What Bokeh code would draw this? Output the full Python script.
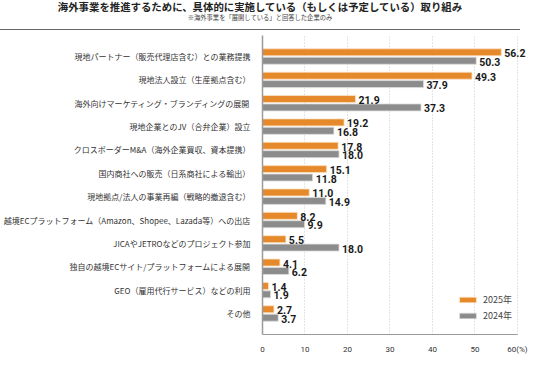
from bokeh.plotting import figure
from bokeh.models import (ColumnDataSource, FactorRange, Range1d, LabelSet, Legend,
                          LegendItem, FixedTicker, Div)
from bokeh.core.properties import value
from bokeh.transform import dodge
from bokeh.layouts import column
from bokeh.embed import file_html
from bokeh.resources import INLINE

title = "海外事業を推進するために、具体的に実施している（もしくは予定している）取り組み"
subtitle = "※海外事業を「展開している」と回答した企業のみ"

categories = [
    "現地パートナー（販売代理店含む）との業務提携",
    "現地法人設立（生産拠点含む）",
    "海外向けマーケティング・ブランディングの展開",
    "現地企業とのJV（合弁企業）設立",
    "クロスボーダーM&A（海外企業買収、資本提携）",
    "国内商社への販売（日系商社による輸出）",
    "現地拠点/法人の事業再編（戦略的撤退含む）",
    "越境ECプラットフォーム（Amazon、Shopee、Lazada等）への出店",
    "JICAやJETROなどのプロジェクト参加",
    "独自の越境ECサイト/プラットフォームによる展開",
    "GEO（雇用代行サービス）などの利用",
    "その他",
]
values_2025 = [56.2, 49.3, 21.9, 19.2, 17.8, 15.1, 11.0, 8.2, 5.5, 4.1, 1.4, 2.7]
values_2024 = [50.3, 37.9, 37.3, 16.8, 18.0, 11.8, 14.9, 9.9, 18.0, 6.2, 1.9, 3.7]
series_names = ["2025年", "2024年"]
x_ticks = [0, 10, 20, 30, 40, 50, 60]

ORANGE = "#E5892A"
GRAY = "#8C8C8C"
JP = "Noto Sans CJK JP"

src = ColumnDataSource(dict(
    cat=categories,
    v25=values_2025,
    v24=values_2024,
    t25=[f"{v:.1f}" for v in values_2025],
    t24=[f"{v:.1f}" for v in values_2024],
))

p = figure(frame_width=266, frame_height=299, output_backend="svg", toolbar_location=None,
           y_range=FactorRange(factors=categories[::-1], range_padding=0.4,
                               range_padding_units="absolute"),
           x_range=Range1d(0, 62.6),
           min_border_left=248, min_border_right=2, min_border_top=4,
           min_border_bottom=16)
p.outline_line_color = None
p.background_fill_color = "white"

r25 = p.hbar(y=dodge("cat", 0.18, range=p.y_range), right="v25", left=0, height=0.3,
             source=src, fill_color=ORANGE, line_color="#fbe3c8", line_width=0.8)
r24 = p.hbar(y=dodge("cat", -0.18, range=p.y_range), right="v24", left=0, height=0.3,
             source=src, fill_color=GRAY, line_color="#dddddd", line_width=0.8)

for fld, txt, off in (("v25", "t25", 0.18), ("v24", "t24", -0.18)):
    p.add_layout(LabelSet(x=fld, y=dodge("cat", off, range=p.y_range), text=txt,
                          source=src, x_offset=3, y_offset=-1, text_baseline="middle",
                          text_align="left", text_font=value("Roboto"),
                          text_font_style="bold", text_font_size="10.5px",
                          text_color="#1a1a1a"))

# axes
p.xaxis.ticker = FixedTicker(ticks=x_ticks)
p.xaxis.bounds = (0, 60)
p.xaxis.major_label_overrides = {60: "60(%)"}
p.xaxis.axis_line_color = "#9a9a9a"
p.xaxis.axis_line_width = 1.2
p.xaxis.major_tick_line_color = None
p.xaxis.minor_tick_line_color = None
p.xaxis.major_label_text_font_size = "8px"
p.xaxis.major_label_text_font = "Roboto"
p.xaxis.major_label_text_color = "#333333"
p.xaxis.major_label_standoff = 4

p.yaxis.axis_line_color = "#9a9a9a"
p.yaxis.axis_line_width = 1.5
p.yaxis.major_tick_line_color = None
p.yaxis.minor_tick_line_color = None
p.yaxis.major_label_text_font_size = "8px"
p.yaxis.major_label_text_font = JP
p.yaxis.major_label_text_color = "#333333"
p.yaxis.major_label_standoff = 6

p.ygrid.grid_line_color = None
p.xgrid.ticker = FixedTicker(ticks=x_ticks[1:])
p.xgrid.grid_line_color = "#c8c8c8"
p.xgrid.grid_line_dash = "1 2"
p.xgrid.grid_line_width = 1

legend = Legend(items=[LegendItem(label=series_names[0], renderers=[r25]),
                       LegendItem(label=series_names[1], renderers=[r24])],
                location=(195, 12), glyph_width=21, glyph_height=7,
                label_height=7, label_standoff=5, spacing=3, padding=0, margin=0,
                label_text_font=JP, label_text_font_size="9px",
                label_text_color="#444444", background_fill_alpha=0,
                border_line_color=None)
p.add_layout(legend)

head = Div(text=(
    f'<div style="width:520px;text-align:center;font-family:\'{JP}\',sans-serif;color:#222;">'
    f'<div style="font-size:10.4px;font-weight:bold;line-height:13px;">{title}</div>'
    f'<div style="font-size:6.3px;line-height:9px;color:#444;">{subtitle}</div>'
    f'<div style="border-top:1.5px solid #666;margin-top:7px;"></div></div>'),
    width=520, height=31, margin=(0, 0, 0, 0))

layout = column(head, p, spacing=0)
open("out.html", "w").write(file_html(layout, INLINE))
